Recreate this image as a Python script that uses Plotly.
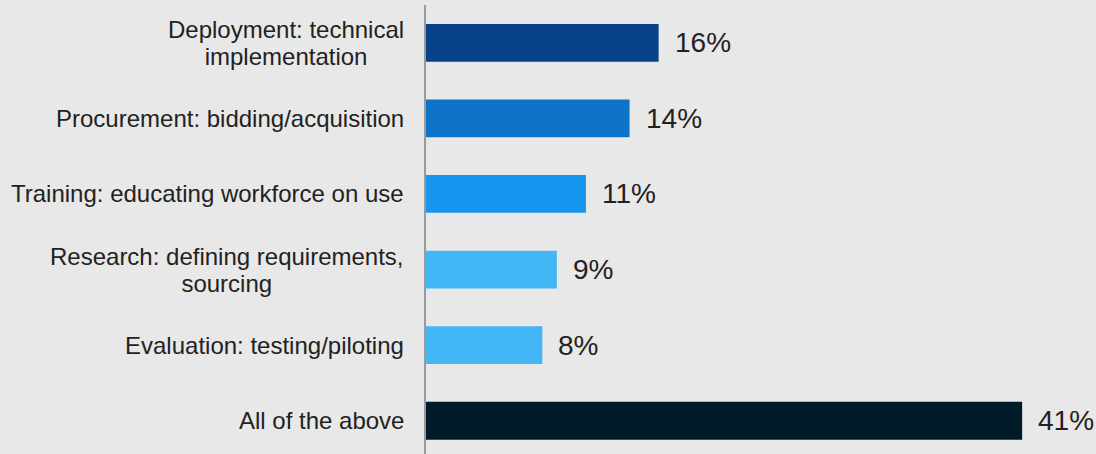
import plotly.graph_objects as go

# Survey shares by stage of the technology adoption process
categories = [
    "Deployment: technical<br>implementation",
    "Procurement: bidding/acquisition",
    "Training: educating workforce on use",
    "Research: defining requirements,<br>sourcing",
    "Evaluation: testing/piloting",
    "All of the above",
]
values = [16, 14, 11, 9, 8, 41]
bar_colors = ["#08428A", "#0E72C6", "#1697EF", "#43B6F5", "#43B6F5", "#021B29"]

BG = "#E8E8E8"
TEXT = "#222222"
FONT = "Liberation Sans, Arial, sans-serif"
LABEL_SIZE = 24


def tight_lines(label):
    # larger glyphs on a tighter line pitch for the wrapped labels
    parts = label.split("<br>")
    return "<br>".join(
        f"<span style='font-size:{LABEL_SIZE}px'>{p}</span>" for p in parts
    )


idx = list(range(len(categories)))

fig = go.Figure(
    go.Bar(
        x=values,
        y=idx,
        orientation="h",
        width=0.5,
        marker=dict(color=bar_colors, line=dict(width=0)),
        hoverinfo="skip",
    )
)

# category labels, each line centred, right edge next to the axis
for i, c in zip(idx, categories):
    fig.add_annotation(
        x=0, xref="paper", y=i, yref="y",
        text=tight_lines(c), showarrow=False,
        xanchor="right", yanchor="middle", align="center",
        xshift=-20,
        font=dict(family=FONT, size=21, color=TEXT),
    )

# value labels just past the bar ends
for i, v in zip(idx, values):
    fig.add_annotation(
        x=v, xref="x", y=i, yref="y",
        text=f"{v}%", showarrow=False,
        xanchor="left", yanchor="middle",
        xshift=14,
        font=dict(family=FONT, size=28, color=TEXT),
    )

fig.update_layout(
    width=1096, height=454,
    margin=dict(l=426, r=0, t=5, b=0),
    paper_bgcolor=BG, plot_bgcolor=BG,
    showlegend=False,
    xaxis=dict(range=[0, 46.08], visible=False, fixedrange=True),
    yaxis=dict(
        range=[5.44, -0.50],
        showticklabels=False, ticks="",
        showgrid=False, zeroline=False,
        showline=True, linecolor="#9A9A9A", linewidth=2,
        fixedrange=True,
    ),
)

fig.write_html("out.html", config={"displayModeBar": False})
